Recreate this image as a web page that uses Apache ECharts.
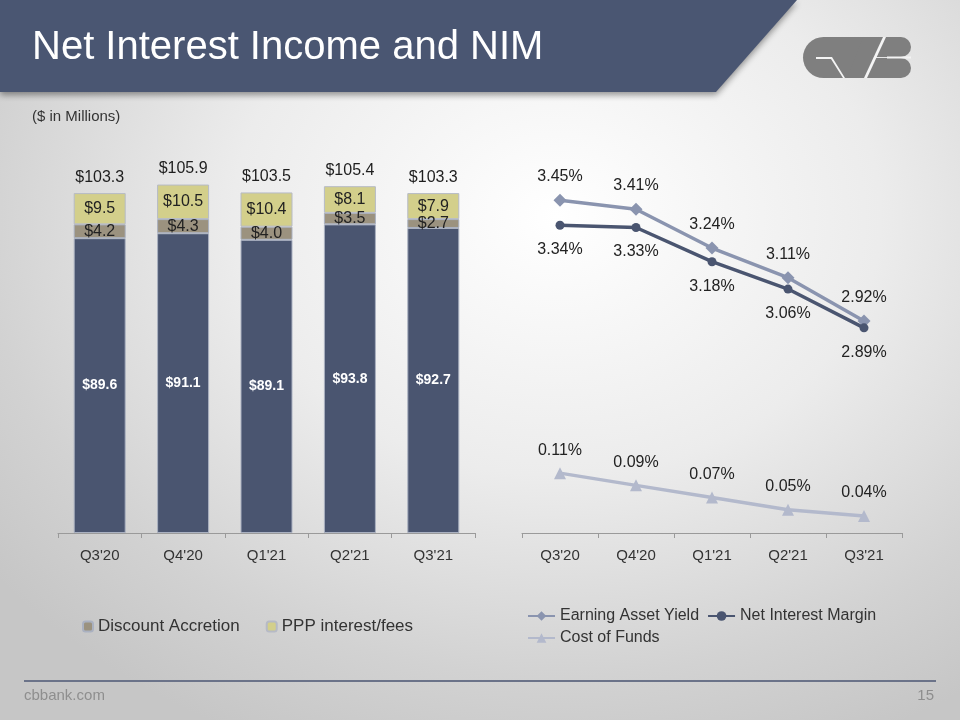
<!DOCTYPE html>
<html>
<head>
<meta charset="utf-8">
<script src="https://cdn.jsdelivr.net/npm/echarts@6/dist/echarts.min.js"></script>
<style>
  html, body { margin: 0; padding: 0; }
  body {
    width: 960px; height: 720px; overflow: hidden;
    background: radial-gradient(ellipse 75% 80% at 58% 30%, #ffffff 0%, #ececec 45%, #d2d2d2 80%, #c6c6c6 100%);
  }
  #main { width: 960px; height: 720px; }
</style>
</head>
<body>
<div id="main"></div>
<script>
// quarters shared by both charts
var quarters = ["Q3'20", "Q4'20", "Q1'21", "Q2'21", "Q3'21"];

// left chart, $ in millions
var coreNii = [89.6, 91.1, 89.1, 93.8, 92.7];
var discountAccretion = [4.2, 4.3, 4.0, 3.5, 2.7];
var pppFees = [9.5, 10.5, 10.4, 8.1, 7.9];
var totalNii = [103.3, 105.9, 103.5, 105.4, 103.3];

// right chart, percent
var earningAssetYield = [3.45, 3.41, 3.24, 3.11, 2.92];
var netInterestMargin = [3.34, 3.33, 3.18, 3.06, 2.89];
var costOfFunds = [0.11, 0.09, 0.07, 0.05, 0.04];

var FONT = "'Liberation Sans', Arial, sans-serif";
var SLATE = '#4a5570';

function money(p) { return '$' + p.value.toFixed(1); }
function pct(p) { return p.value.toFixed(2) + '%'; }

var chart = echarts.init(document.getElementById('main'), null, { renderer: 'canvas' });

var xAxisBase = {
  type: 'category',
  data: quarters,
  boundaryGap: true,
  axisLine: { lineStyle: { color: '#9a9a9a', width: 1 } },
  axisTick: { show: true, length: 5, lineStyle: { color: '#9a9a9a' } },
  axisLabel: { color: '#333', fontSize: 15, fontFamily: FONT, margin: 15 }
};

chart.setOption({
  backgroundColor: 'transparent',
  animation: false,
  textStyle: { fontFamily: FONT },
  grid: [
    { left: 58, width: 417, top: 150, height: 383 },
    { left: 522, width: 380, top: 150, height: 383 }
  ],
  xAxis: [
    Object.assign({ gridIndex: 0 }, xAxisBase),
    Object.assign({ gridIndex: 1 }, xAxisBase)
  ],
  yAxis: [
    { gridIndex: 0, type: 'value', min: 0, max: 116.4, show: false },
    { gridIndex: 1, type: 'value', min: 1.99, max: 3.67, show: false },
    { gridIndex: 1, type: 'value', min: 0.012, max: 0.639, show: false }
  ],
  legend: [
    {
      data: ['Discount Accretion', 'PPP interest/fees'],
      left: 77, top: 613,
      itemWidth: 10, itemHeight: 10, itemGap: 26,
      textStyle: { color: '#333', fontSize: 17, fontFamily: FONT }
    },
    {
      data: ['Earning Asset Yield', 'Net Interest Margin'],
      left: 522, top: 603,
      itemWidth: 27, itemHeight: 12, itemGap: 8,
      textStyle: { color: '#333', fontSize: 16, fontFamily: FONT }
    },
    {
      data: ['Cost of Funds'],
      left: 522, top: 625,
      itemWidth: 27, itemHeight: 12,
      textStyle: { color: '#333', fontSize: 16, fontFamily: FONT }
    }
  ],
  graphic: [
    // header band
    {
      type: 'polygon', z: 1,
      shape: { points: [[0, 0], [797, 0], [716, 92], [0, 92]] },
      style: { fill: '#4a5672', shadowBlur: 6, shadowOffsetY: 3, shadowColor: 'rgba(0,0,0,0.4)' }
    },
    {
      type: 'text', z: 2, left: 32, top: 28,
      style: { text: 'Net Interest Income and NIM', fill: '#ffffff', fontSize: 40, fontFamily: FONT }
    },
    // logo
    {
      type: 'group', left: 803, top: 37, z: 2,
      children: [
        { type: 'rect', shape: { x: 0, y: 0, width: 62, height: 41, r: [21, 0, 0, 21] }, style: { fill: '#7f7f7f' } },
        { type: 'polygon', shape: { points: [[60, 0], [80, 0], [62, 41], [44, 41]] }, style: { fill: '#7f7f7f' } },
        { type: 'rect', shape: { x: 70, y: 0, width: 38, height: 20, r: [0, 10, 10, 0] }, style: { fill: '#7f7f7f' } },
        { type: 'rect', shape: { x: 62, y: 21, width: 46, height: 20, r: [0, 10, 10, 0] }, style: { fill: '#7f7f7f' } },
        { type: 'polygon', shape: { points: [[13, 20], [29, 20], [42, 41], [40, 41], [28, 22], [13, 22]] }, style: { fill: '#f4f4f4' } },
        { type: 'polygon', shape: { points: [[80, 0], [83, 0], [64, 41], [61, 41]] }, style: { fill: '#f4f4f4' } },
        { type: 'rect', shape: { x: 84, y: 19.5, width: 24, height: 2 }, style: { fill: '#f4f4f4' } }
      ]
    },
    {
      type: 'text', left: 32, top: 109,
      style: { text: '($ in Millions)', fill: '#333', fontSize: 15, fontFamily: FONT }
    },
    // footer
    {
      type: 'line', shape: { x1: 24, y1: 681, x2: 936, y2: 681 },
      style: { stroke: '#6b7389', lineWidth: 2 }
    },
    {
      type: 'text', left: 24, top: 688,
      style: { text: 'cbbank.com', fill: '#8e8e8e', fontSize: 15, fontFamily: FONT }
    },
    {
      type: 'text', right: 26, top: 688,
      style: { text: '15', fill: '#8e8e8e', fontSize: 15, fontFamily: FONT }
    }
  ],
  series: [
    {
      name: 'Net Interest Income', type: 'bar', stack: 'nii',
      xAxisIndex: 0, yAxisIndex: 0, barWidth: 52,
      data: coreNii,
      itemStyle: { color: SLATE, borderColor: '#aab1c1', borderWidth: 1 },
      label: { show: true, position: 'inside', formatter: money, color: '#fff', fontWeight: 'bold', fontSize: 14 }
    },
    {
      name: 'Discount Accretion', type: 'bar', stack: 'nii',
      xAxisIndex: 0, yAxisIndex: 0, barWidth: 52,
      data: discountAccretion,
      itemStyle: { color: '#9b927f', borderColor: '#aab1c1', borderWidth: 1 },
      label: { show: true, position: 'inside', formatter: money, color: '#222', fontSize: 16 }
    },
    {
      name: 'PPP interest/fees', type: 'bar', stack: 'nii',
      xAxisIndex: 0, yAxisIndex: 0, barWidth: 52,
      data: pppFees,
      itemStyle: { color: '#d3cf8b', borderColor: '#b6bac6', borderWidth: 1 },
      label: { show: true, position: 'inside', formatter: money, color: '#222', fontSize: 16 }
    },
    {
      // invisible carrier for the total labels above each stack
      name: 'Total', type: 'scatter',
      xAxisIndex: 0, yAxisIndex: 0,
      data: totalNii,
      symbol: 'rect', symbolSize: [52, 1],
      itemStyle: { color: 'rgba(0,0,0,0)', opacity: 1 },
      z: 5,
      label: { show: true, position: 'top', distance: 7, formatter: money, color: '#1e1e1e', opacity: 1, fontSize: 16 }
    },
    {
      name: 'Earning Asset Yield', type: 'line',
      xAxisIndex: 1, yAxisIndex: 1,
      data: earningAssetYield,
      symbol: 'diamond', symbolSize: 13,
      color: '#8a94af',
      lineStyle: { width: 3.5, color: '#8a94af' },
      itemStyle: { color: '#8a94af' },
      label: { show: true, position: 'top', distance: 9, formatter: pct, color: '#222', fontSize: 16 }
    },
    {
      name: 'Net Interest Margin', type: 'line',
      xAxisIndex: 1, yAxisIndex: 1,
      data: netInterestMargin,
      symbol: 'circle', symbolSize: 9,
      color: SLATE,
      lineStyle: { width: 3.5, color: SLATE },
      itemStyle: { color: SLATE },
      label: { show: true, position: 'bottom', distance: 12, formatter: pct, color: '#222', fontSize: 16 }
    },
    {
      name: 'Cost of Funds', type: 'line',
      xAxisIndex: 1, yAxisIndex: 2,
      data: costOfFunds,
      symbol: 'triangle', symbolSize: 12,
      color: '#b3b9cc',
      lineStyle: { width: 3.5, color: '#b3b9cc' },
      itemStyle: { color: '#b3b9cc' },
      label: { show: true, position: 'top', distance: 9, formatter: pct, color: '#222', fontSize: 16 }
    }
  ]
});
</script>
</body>
</html>
